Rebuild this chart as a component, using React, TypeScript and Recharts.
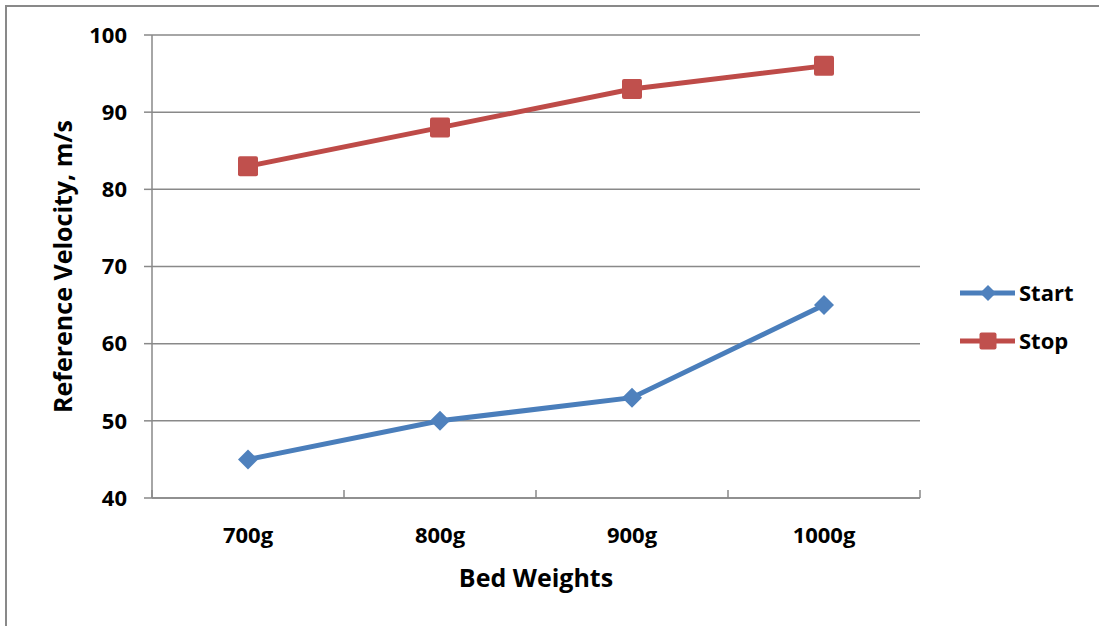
import React from "react";
import { LineChart, Line, XAxis, YAxis, CartesianGrid, Legend } from "recharts";

// Bed weight categories and reference velocities (m/s)
const weights = ["700g", "800g", "900g", "1000g"];
const startVelocity = [45, 50, 53, 65];
const stopVelocity = [83, 88, 93, 96];
const yTicks = [40, 50, 60, 70, 80, 90, 100];

const data = weights.map((w, i) => ({
  weight: w,
  Start: startVelocity[i],
  Stop: stopVelocity[i],
}));

const FONT = "'Open Sans', 'Liberation Sans', sans-serif";
const AXIS_GREY = "#898989";
const BLUE = "#4A7EBB";
const BLUE_FILL = "#4F81BD";
const RED = "#BE4B48";
const RED_FILL = "#C0504D";

const Diamond = ({ cx, cy, r, fill }: { cx: number; cy: number; r: number; fill: string }) => (
  <polygon points={`${cx},${cy - r} ${cx + r},${cy} ${cx},${cy + r} ${cx - r},${cy}`} fill={fill} />
);

const Square = ({ cx, cy, s, fill }: { cx: number; cy: number; s: number; fill: string }) => (
  <rect x={cx - s / 2} y={cy - s / 2} width={s} height={s} rx={2} fill={fill} />
);

const StartDot = (props: any) => {
  const { cx, cy, index } = props;
  if (cx == null || cy == null) return null;
  return <Diamond key={`s-${index}`} cx={cx} cy={cy} r={10} fill={BLUE_FILL} />;
};

const StopDot = (props: any) => {
  const { cx, cy, index } = props;
  if (cx == null || cy == null) return null;
  return <Square key={`p-${index}`} cx={cx} cy={cy} s={20} fill={RED_FILL} />;
};

// Category label centred in its band, with tick marks on the band edges
const WeightTick = (props: any) => {
  const { x, y, payload, index } = props;
  const half = payload && typeof payload.offset === "number" ? payload.offset : 0;
  const last = index === weights.length - 1;
  return (
    <g>
      <line x1={x - half} y1={y} x2={x - half} y2={y - 8} stroke={AXIS_GREY} strokeWidth={1.5} />
      {last && (
        <line x1={x + half} y1={y} x2={x + half} y2={y - 8} stroke={AXIS_GREY} strokeWidth={1.5} />
      )}
      <text x={x} y={y + 45} textAnchor="middle" fontFamily={FONT} fontWeight={700} fontSize={22} fill="#000">
        {payload.value}
      </text>
    </g>
  );
};

const LegendContent = (props: any) => {
  const items = (props.payload || []).filter((p: any) => p.value === "Start" || p.value === "Stop");
  return (
    <svg width={140} height={90} style={{ display: "block", overflow: "visible" }}>
      {items.map((item: any, i: number) => {
        const cy = 13 + i * 48;
        const isStart = item.value === "Start";
        return (
          <g key={item.value}>
            <line x1={5} y1={cy} x2={60} y2={cy} stroke={isStart ? BLUE : RED} strokeWidth={5} />
            {isStart ? (
              <Diamond cx={33} cy={cy} r={8} fill={BLUE_FILL} />
            ) : (
              <Square cx={33} cy={cy} s={17} fill={RED_FILL} />
            )}
            <text x={64} y={cy + 8} fontFamily={FONT} fontWeight={700} fontSize={22} fill="#000">
              {item.value}
            </text>
          </g>
        );
      })}
    </svg>
  );
};

export default function App() {
  return (
    <div
      style={{
        position: "absolute",
        left: 0,
        top: 0,
        width: 1099,
        height: 626,
        overflow: "hidden",
        background: "#fff",
      }}
    >
      <div
        style={{
          position: "absolute",
          left: 5,
          top: 5,
          width: 1200,
          height: 700,
          border: `2px solid ${AXIS_GREY}`,
        }}
      />
      <div style={{ position: "absolute", left: 0, top: 0 }}>
        <LineChart
          width={1099}
          height={626}
          data={data}
          margin={{ top: 35, right: 179, bottom: 28, left: 52 }}
        >
          <CartesianGrid vertical={false} stroke={AXIS_GREY} strokeWidth={1.5} />
          <XAxis
            dataKey="weight"
            scale="band"
            height={100}
            stroke={AXIS_GREY}
            strokeWidth={1.5}
            tickLine={false}
            tickSize={0}
            tickMargin={0}
            interval={0}
            tick={<WeightTick />}
            label={{
              content: (p: any) => {
                const vb = p.viewBox || {};
                return (
                  <text
                    x={vb.x + vb.width / 2}
                    y={vb.y + 89}
                    textAnchor="middle"
                    fontFamily={FONT}
                    fontWeight={700}
                    fontSize={25}
                    fill="#000"
                  >
                    Bed Weights
                  </text>
                );
              },
            }}
          />
          <YAxis
            domain={[40, 100]}
            ticks={yTicks}
            width={100}
            stroke={AXIS_GREY}
            strokeWidth={1.5}
            tickSize={8}
            tickMargin={17}
            tick={{ fontFamily: FONT, fontWeight: 700, fontSize: 22, fill: "#000" }}
            label={{
              content: (p: any) => {
                const vb = p.viewBox || {};
                const cx = vb.x + 20;
                const cy = vb.y + vb.height / 2;
                return (
                  <text
                    x={cx}
                    y={cy}
                    transform={`rotate(-90, ${cx}, ${cy})`}
                    textAnchor="middle"
                    fontFamily={FONT}
                    fontWeight={700}
                    fontSize={25}
                    fill="#000"
                  >
                    Reference Velocity, m/s
                  </text>
                );
              },
            }}
          />
          <Legend
            layout="vertical"
            align="center"
            verticalAlign="middle"
            wrapperStyle={{ left: 955, top: 280, width: 140, height: 90 }}
            content={<LegendContent />}
          />
          <Line
            type="linear"
            dataKey="Start"
            stroke={BLUE}
            strokeWidth={5}
            dot={<StartDot />}
            activeDot={false}
            isAnimationActive={false}
          />
          <Line
            type="linear"
            dataKey="Stop"
            stroke={RED}
            strokeWidth={5}
            dot={<StopDot />}
            activeDot={false}
            isAnimationActive={false}
          />
        </LineChart>
      </div>
    </div>
  );
}
